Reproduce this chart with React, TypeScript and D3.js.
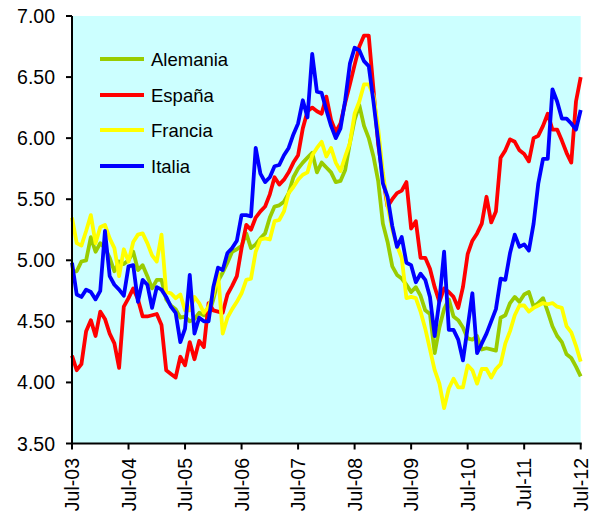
import React from "react";
import * as d3 from "d3";

const seriesNames = ["Alemania", "España", "Francia", "Italia"];
const seriesColors = ["#99CC00", "#FF0000", "#FFFF00", "#0000FF"];

const alemania = [
  4.91, 4.91, 4.99, 5.00, 5.19, 5.07, 5.14, 5.10, 5.02, 4.91,
  4.99, 4.97, 5.00, 5.07, 4.92, 4.96, 4.87, 4.77, 4.84, 4.84,
  4.68, 4.63, 4.60, 4.53, 4.54, 4.50, 4.52, 4.57, 4.55, 4.55,
  4.68, 4.83, 4.90, 4.98, 5.07, 5.09, 5.12, 5.22, 5.10, 5.13,
  5.18, 5.22, 5.35, 5.44, 5.45, 5.48, 5.55, 5.68, 5.75, 5.80,
  5.84, 5.88, 5.72, 5.80, 5.76, 5.72, 5.64, 5.65, 5.74, 5.96,
  6.15, 6.27, 6.10, 6.00, 5.85, 5.65, 5.30, 5.15, 4.95, 4.88,
  4.85, 4.80, 4.74, 4.78, 4.71, 4.59, 4.56, 4.24, 4.45, 4.60,
  4.68, 4.54, 4.51, 4.45, 4.36, 4.35, 4.38, 4.27, 4.28, 4.27,
  4.26, 4.53, 4.55, 4.65, 4.70, 4.66, 4.72, 4.74, 4.62, 4.65,
  4.69, 4.58, 4.46, 4.38, 4.33, 4.23, 4.20, 4.13, 4.05,
];

const espana = [
  4.22, 4.10, 4.15, 4.42, 4.51, 4.38, 4.58, 4.52, 4.40, 4.32,
  4.12, 4.62, 4.69, 4.77, 4.68, 4.54, 4.54, 4.55, 4.56, 4.47,
  4.10, 4.07, 4.04, 4.21, 4.14, 4.33, 4.19, 4.34, 4.29, 4.65,
  4.59, 4.58, 4.57, 4.72, 4.79, 4.87, 5.10, 5.29, 5.25, 5.35,
  5.40, 5.44, 5.54, 5.68, 5.62, 5.66, 5.72, 5.80, 5.86, 6.08,
  6.22, 6.25, 6.22, 6.20, 6.34, 6.15, 6.05, 6.12, 6.29, 6.44,
  6.60, 6.75, 6.84, 6.84, 6.40, 5.95, 5.68, 5.44, 5.50, 5.55,
  5.57, 5.64, 5.26, 5.32, 5.02, 5.02, 4.93, 4.78, 4.66, 4.77,
  4.74, 4.70, 4.61, 4.78, 5.05, 5.16, 5.22, 5.30, 5.52, 5.31,
  5.40, 5.84, 5.90, 5.99, 5.97, 5.90, 5.87, 5.81, 6.00, 6.02,
  6.10, 6.20, 6.07, 6.07, 5.98, 5.88, 5.80, 6.30, 6.50,
];

const francia = [
  5.35, 5.14, 5.12, 5.24, 5.37, 5.14, 5.27, 5.29, 5.18, 5.10,
  4.87, 5.09, 4.99, 5.15, 5.21, 5.22, 5.14, 5.04, 4.99, 5.21,
  4.74, 4.73, 4.69, 4.72, 4.59, 4.59, 4.70, 4.65, 4.57, 4.62,
  4.72, 4.90, 4.40, 4.53, 4.60, 4.66, 4.73, 4.84, 4.85, 5.07,
  5.17, 5.18, 5.17, 5.32, 5.33, 5.40, 5.55, 5.60, 5.66, 5.70,
  5.72, 5.86, 5.92, 5.97, 5.85, 5.92, 5.80, 5.73, 5.85, 5.96,
  6.20, 6.30, 6.44, 6.44, 6.35, 6.08, 5.72, 5.45, 5.25, 5.12,
  5.02, 4.69, 4.70, 4.69, 4.58, 4.44, 4.27, 4.10, 3.99, 3.79,
  3.95, 4.03, 3.96, 3.96, 4.14, 4.10, 3.99, 4.11, 4.11, 4.04,
  4.11, 4.15, 4.32, 4.42, 4.55, 4.63, 4.63, 4.58, 4.61, 4.63,
  4.65, 4.64, 4.65, 4.62, 4.61, 4.46, 4.41, 4.30, 4.17,
];

const italia = [
  4.98, 4.72, 4.70, 4.76, 4.74, 4.68, 4.75, 5.24, 4.87, 4.80,
  4.76, 4.71, 4.95, 4.96, 4.66, 4.84, 4.80, 4.61, 4.78, 4.76,
  4.70, 4.62, 4.57, 4.33, 4.44, 4.88, 4.40, 4.53, 4.50, 4.50,
  4.78, 4.94, 4.92, 5.06, 5.10, 5.16, 5.37, 5.37, 5.36, 5.92,
  5.71, 5.64, 5.68, 5.77, 5.78, 5.86, 5.92, 6.03, 6.12, 6.31,
  6.17, 6.69, 6.38, 6.37, 6.23, 6.10, 6.00, 6.08, 6.31, 6.61,
  6.74, 6.72, 6.63, 6.59, 6.30, 5.98, 5.63, 5.52, 5.28, 5.11,
  5.19, 4.98, 4.96, 4.82, 4.89, 4.84, 4.70, 4.38, 4.67, 5.07,
  4.43, 4.43, 4.35, 4.18, 4.45, 4.73, 4.24, 4.32, 4.40, 4.50,
  4.60, 4.85, 4.84, 5.06, 5.21, 5.11, 5.13, 5.08, 5.30, 5.63,
  5.83, 5.83, 6.40, 6.30, 6.16, 6.16, 6.12, 6.07, 6.23,
];

const xTickLabels = ["Jul-03", "Jul-04", "Jul-05", "Jul-06", "Jul-07", "Jul-08", "Jul-09", "Jul-10", "Jul-11", "Jul-12"];
const yTicks = [3.5, 4.0, 4.5, 5.0, 5.5, 6.0, 6.5, 7.0];

const W = 598;
const H = 511;
const left = 72;
const right = 580.7;
const top = 16;
const bottom = 443.5;
const FONT = "'Liberation Sans', Arial, Helvetica, sans-serif";

export default function App() {
  const allSeries = [alemania, espana, francia, italia];
  const n = alemania.length;
  const x = d3.scaleLinear().domain([0, n - 1]).range([left, right]);
  const y = d3.scaleLinear().domain([3.5, 7.0]).range([bottom, top]);
  const line = d3
    .line<number>()
    .x((_, i) => x(i))
    .y((d) => y(d));

  const legendY = [59, 95, 130, 166];

  return (
    <svg
      width={W}
      height={H}
      style={{ position: "absolute", left: 0, top: 0, background: "#fff" }}
    >
      <rect x={left} y={top} width={right - left} height={bottom - top} fill="#CCFFFF" />
      {allSeries.map((s, k) => (
        <path
          key={k}
          d={line(s) || ""}
          fill="none"
          stroke={seriesColors[k]}
          strokeWidth={3.8}
          strokeLinejoin="round"
          strokeLinecap="butt"
        />
      ))}
      <line x1={left} x2={left} y1={top} y2={bottom} stroke="#000" strokeWidth={2} />
      <line x1={left - 1} x2={right + 1} y1={bottom} y2={bottom} stroke="#000" strokeWidth={2} />
      {yTicks.map((t) => (
        <g key={t}>
          <line x1={left - 6} x2={left} y1={y(t)} y2={y(t)} stroke="#000" strokeWidth={2} />
          <text
            x={55}
            y={y(t)}
            dy="0.36em"
            textAnchor="end"
            fontFamily={FONT}
            fontSize={19.5}
            fill="#000"
          >
            {t.toFixed(2)}
          </text>
        </g>
      ))}
      {xTickLabels.map((lab, i) => {
        const xi = x(i * 12);
        return (
          <g key={lab}>
            <line x1={xi} x2={xi} y1={bottom} y2={bottom + 6} stroke="#000" strokeWidth={2} />
            <text
              transform={`translate(${xi},${458}) rotate(-90)`}
              dy="0.36em"
              textAnchor="end"
              fontFamily={FONT}
              fontSize={19.5}
              fill="#000"
            >
              {lab}
            </text>
          </g>
        );
      })}
      {seriesNames.map((name, k) => (
        <g key={name}>
          <line
            x1={100}
            x2={144}
            y1={legendY[k]}
            y2={legendY[k]}
            stroke={seriesColors[k]}
            strokeWidth={4}
          />
          <text
            x={151}
            y={legendY[k]}
            dy="0.36em"
            fontFamily={FONT}
            fontSize={18.5}
            fill="#000"
          >
            {name}
          </text>
        </g>
      ))}
    </svg>
  );
}
